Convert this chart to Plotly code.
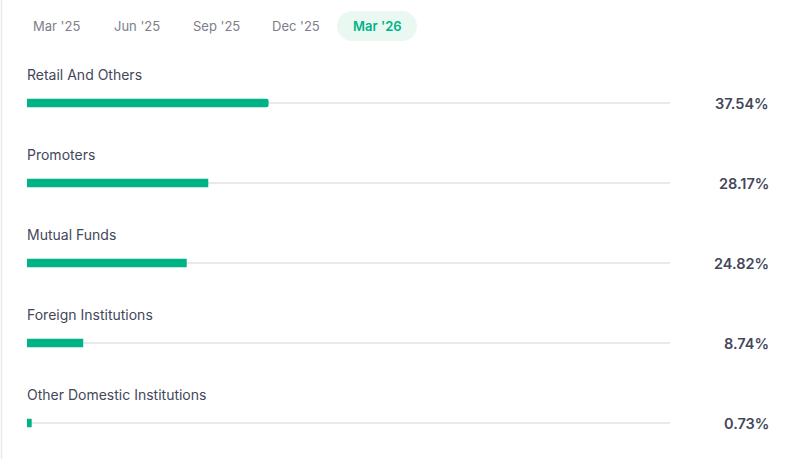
import plotly.graph_objects as go

categories = ["Retail And Others", "Promoters", "Mutual Funds", "Foreign Institutions", "Other Domestic Institutions"]
values = [37.54, 28.17, 24.82, 8.74, 0.73]
tabs = ["Mar '25", "Jun '25", "Sep '25", "Dec '25", "Mar '26"]
active_tab = "Mar '26"

W, H = 799, 459
GREEN = "#00b386"
TEXT = "#44475b"
MUTED = "#7c7e8c"
TRACK = "#e9e9eb"


def px(x):
    return x / W


def py(y):
    return 1 - y / H


fig = go.Figure()

# track lines (full 100%)
fig.add_trace(go.Bar(
    x=[100] * len(categories), y=categories, orientation="h",
    width=1.2 / 80, marker=dict(color=TRACK, line=dict(width=0)),
    hoverinfo="skip", showlegend=False,
))
# value bars
fig.add_trace(go.Bar(
    x=values, y=categories, orientation="h",
    width=8.5 / 80, marker=dict(color=GREEN, line=dict(width=0)),
    showlegend=False,
))

annotations = []
for c, v in zip(categories, values):
    annotations.append(dict(
        x=0, y=c, xref="x", yref="y", text=c, showarrow=False,
        xanchor="left", yanchor="middle", yshift=29, xshift=-2,
        font=dict(family="Inter", size=14, color=TEXT),
    ))
    annotations.append(dict(
        x=px(770.5), y=c, xref="paper", yref="y", text=f"{v:.2f}%", showarrow=False,
        xanchor="right", yanchor="middle",
        font=dict(family="Inter", size=14.5, color=TEXT, weight=600),
    ))

tab_centers = [56, 136.5, 216, 296, 377]
for t, cx in zip(tabs, tab_centers):
    active = t == active_tab
    annotations.append(dict(
        x=px(cx), y=py(26), xref="paper", yref="paper", text=t, showarrow=False,
        xanchor="center", yanchor="middle",
        font=dict(family="Inter", size=13, color=GREEN if active else MUTED,
                  weight=600 if active else 400),
    ))

# pill behind active tab
x0, x1, y0, y1, r = 337, 417, 11, 41, 15
k = 0.552
path = (
    f"M {px(x0 + r)},{py(y0)} L {px(x1 - r)},{py(y0)} "
    f"C {px(x1 - r + r * k)},{py(y0)} {px(x1)},{py(y0 + r - r * k)} {px(x1)},{py(y0 + r)} "
    f"C {px(x1)},{py(y1 - r + r * k)} {px(x1 - r + r * k)},{py(y1)} {px(x1 - r)},{py(y1)} "
    f"L {px(x0 + r)},{py(y1)} "
    f"C {px(x0 + r - r * k)},{py(y1)} {px(x0)},{py(y1 - r + r * k)} {px(x0)},{py(y1 - r)} "
    f"C {px(x0)},{py(y0 + r - r * k)} {px(x0 + r - r * k)},{py(y0)} {px(x0 + r)},{py(y0)} Z"
)
shapes = [
    dict(type="path", xref="paper", yref="paper", path=path,
         fillcolor="#e9f9f2", line=dict(width=0), layer="below"),
    dict(type="line", xref="paper", yref="paper", x0=px(1.5), x1=px(1.5), y0=0, y1=1,
         line=dict(color=TRACK, width=1.5)),
]

fig.update_layout(
    width=W, height=H,
    margin=dict(l=0, r=0, t=0, b=0),
    paper_bgcolor="white", plot_bgcolor="white",
    barmode="overlay", barcornerradius=2,
    xaxis=dict(domain=[px(27), px(670.5)], range=[0, 100], visible=False, fixedrange=True),
    yaxis=dict(type="category", categoryorder="array", categoryarray=categories,
               range=[-1.2875 + H / 80, -1.2875], visible=False, fixedrange=True),
    annotations=annotations, shapes=shapes,
    font=dict(family="Inter"),
)

fig.write_html(
    "out.html",
    config={"displayModeBar": False},
    post_script="document.body.style.margin='0';document.body.style.overflow='hidden';",
)
